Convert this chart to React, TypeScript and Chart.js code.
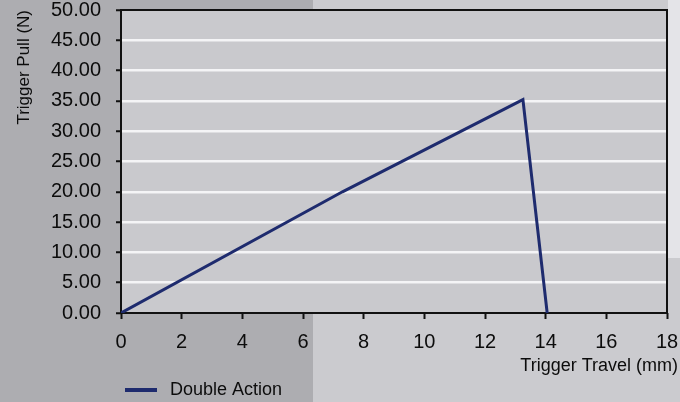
import React, { useEffect, useRef } from "react";
import { Chart, registerables } from "chart.js";

Chart.register(...registerables);

const seriesLabel = "Double Action";
const travelMm = [0, 7.3, 13.25, 14.05];
const pullN = [0, 20, 35.2, 0];
const xTitle = "Trigger Travel (mm)";
const yTitle = "Trigger Pull (N)";
const xRange = [0, 18, 2];
const yRange = [0, 50, 5];

const LINE_COLOR = "#1e2b6e";
const TEXT_COLOR = "#0c0c0c";
const FONT = "'Liberation Sans', Arial, Helvetica, sans-serif";

const plotBgPlugin = {
  id: "plotBg",
  beforeDraw(chart: any) {
    const { ctx, chartArea: a } = chart;
    ctx.save();
    ctx.fillStyle = "#c9c9cd";
    ctx.fillRect(a.left, a.top, a.right - a.left, a.bottom - a.top);
    ctx.restore();
  },
  beforeDatasetsDraw(chart: any) {
    const { ctx, chartArea: a } = chart;
    ctx.save();
    ctx.strokeStyle = "#111111";
    ctx.lineWidth = 2;
    ctx.strokeRect(a.left, a.top, a.right - a.left, a.bottom - a.top);
    ctx.restore();
  },
};

const textPlugin = {
  id: "customText",
  afterDraw(chart: any) {
    const { ctx } = chart;
    const ds = chart.data.datasets[0];
    ctx.save();
    ctx.fillStyle = TEXT_COLOR;
    ctx.font = `18px ${FONT}`;
    ctx.textBaseline = "middle";
    ctx.textAlign = "right";
    ctx.fillText(xTitle, 678, 366);
    const y = 390;
    ctx.strokeStyle = ds.borderColor;
    ctx.lineWidth = 4;
    ctx.beginPath();
    ctx.moveTo(125, y);
    ctx.lineTo(157, y);
    ctx.stroke();
    ctx.textAlign = "left";
    ctx.fillText(ds.label, 170, y);
    ctx.restore();
  },
};

export default function App() {
  const ref = useRef<HTMLCanvasElement>(null);

  useEffect(() => {
    document.body.style.margin = "0";
    const canvas = ref.current;
    if (!canvas) return;
    const points = travelMm.map((x, i) => ({ x, y: pullN[i] }));
    const chart = new Chart(canvas, {
      type: "scatter",
      data: {
        datasets: [
          {
            label: seriesLabel,
            data: points,
            showLine: true,
            borderColor: LINE_COLOR,
            backgroundColor: LINE_COLOR,
            borderWidth: 3,
            pointRadius: 0,
            tension: 0,
          },
        ],
      },
      options: {
        animation: false,
        responsive: false,
        maintainAspectRatio: false,
        layout: { padding: { left: 0, top: 10, right: 13, bottom: 27 } },
        plugins: {
          legend: { display: false },
          tooltip: { enabled: false },
        },
        scales: {
          x: {
            type: "linear",
            min: xRange[0],
            max: xRange[1],
            afterFit(scale: any) {
              scale.height = 62;
              scale.paddingLeft = 0;
              scale.paddingRight = 0;
            },
            ticks: {
              stepSize: xRange[2],
              color: TEXT_COLOR,
              font: { family: FONT, size: 20, lineHeight: 1 },
              padding: 13,
              maxRotation: 0,
            },
            grid: {
              drawOnChartArea: false,
              drawTicks: true,
              tickLength: 6,
              tickColor: "#111111",
              tickWidth: 2,
            },
            border: { display: false },
          },
          y: {
            type: "linear",
            min: yRange[0],
            max: yRange[1],
            afterFit(scale: any) {
              scale.width = 121;
              scale.paddingTop = 0;
              scale.paddingBottom = 0;
            },
            ticks: {
              stepSize: yRange[2],
              color: TEXT_COLOR,
              font: { family: FONT, size: 20, lineHeight: 1 },
              padding: 15,
              callback: (v: any) => Number(v).toFixed(2),
            },
            grid: {
              drawTicks: true,
              tickLength: 5,
              tickColor: "#111111",
              tickWidth: 2,
              lineWidth: 2.5,
              color: (c: any) =>
                c.tick && (c.tick.value === yRange[0] || c.tick.value === yRange[1])
                  ? "rgba(0,0,0,0)"
                  : "#f4f4f6",
            },
            border: { display: false },
            title: {
              display: true,
              text: yTitle,
              align: "end",
              color: TEXT_COLOR,
              font: { family: FONT, size: 17, lineHeight: 1.2 },
              padding: { top: 14, bottom: 0 },
            },
          },
        },
      },
      plugins: [plotBgPlugin, textPlugin],
    } as any);
    return () => chart.destroy();
  }, []);

  return (
    <div
      style={{
        position: "relative",
        width: 680,
        height: 402,
        background:
          "linear-gradient(#e4e4e8, #e4e4e8) 668px 0px / 12px 258px no-repeat, linear-gradient(to right, #adadb1 0px, #adadb1 313px, #cbcbcf 313px, #cbcbcf 100%)",
      }}
    >
      <canvas ref={ref} width={680} height={402} style={{ display: "block" }} />
    </div>
  );
}
